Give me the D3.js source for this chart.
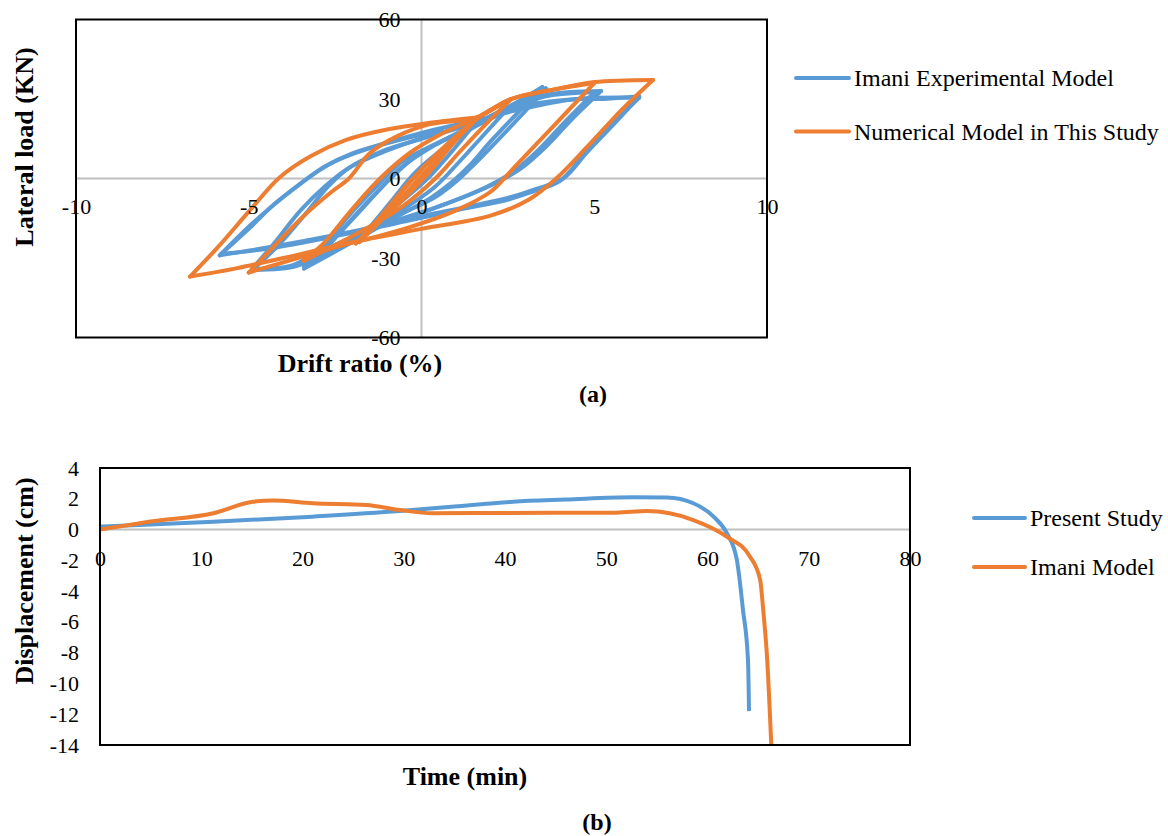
<!DOCTYPE html>
<html>
<head>
<meta charset="utf-8">
<script src="https://cdn.jsdelivr.net/npm/d3@7"></script>
<style>
  body { margin: 0; background: #fff; }
  svg text { font-family: "Liberation Serif", "Times New Roman", serif; fill: #000; }
  .title { font-size: 26px; font-weight: bold; }
  .label { font-size: 24px; font-weight: bold; }
  .legend text { font-size: 24px; }
</style>
</head>
<body>
<svg id="vis-svg"></svg>
<script>
// ---- data (a): hysteresis branches, [drift %, load kN], peak to peak
const experimentalBranches = [
  [[0,0],[0.7,11],[1.5,20]],
  [[1.5,20],[0.8,9],[0.1,-1],[-0.8,-11],[-1.6,-20]],
  [[-1.6,-20],[-0.9,-9],[-0.2,2],[0.7,12],[1.6,20],[2.4,25]],
  [[2.4,25],[1.7,15],[1.0,5],[0.4,-3],[-0.7,-13],[-1.8,-21],[-2.8,-27]],
  [[-2.8,-27],[-2.2,-18],[-1.5,-8],[-0.9,0],[-0.1,9],[0.9,16],[2.0,23],[3.5,34.5]],
  [[3.5,34.5],[2.8,25],[2.0,14],[1.4,5],[1.0,0],[0.3,-7],[-0.8,-15],[-2.0,-24],[-3.4,-34]],
  [[-3.4,-34],[-2.7,-25],[-1.9,-14],[-1.2,-4],[-0.6,4],[0.3,12],[1.4,19.5],[2.5,27],[3.6,34]],
  [[3.6,34],[2.9,24],[2.1,13],[1.5,5],[1.1,0],[0.4,-7],[-0.7,-14],[-2.0,-23],[-3.4,-33]],
  [[-3.4,-33],[-2.8,-25],[-2.1,-14],[-1.3,-3],[-0.6,6],[0.4,13],[1.6,20],[2.7,27],[3.6,31.5],[5.2,33]],
  [[5.2,33],[4.4,23],[3.6,12],[2.9,4],[2.4,0],[1.6,-5],[0.4,-11],[-1.2,-18],[-2.8,-27],[-3.6,-33],[-4.9,-34.5]],
  [[-4.9,-34.5],[-4.2,-26],[-3.4,-14],[-2.7,-3],[-2.1,4],[-1.2,10],[0,15],[1.3,20],[2.6,26.5],[3.6,31],[5.0,32.5]],
  [[5.0,32.5],[4.2,22],[3.4,11],[2.7,3],[2.2,-1],[1.4,-6],[0.2,-12],[-1.4,-19],[-3.0,-28],[-3.8,-33],[-4.9,-34]],
  [[-4.9,-34],[-4.3,-25],[-3.5,-12],[-2.8,-3],[-2.1,4],[-1.1,10],[0.2,16],[1.6,21],[3.0,27.5],[4.5,30],[5.3,30],[6.3,31]],
  [[6.3,31],[5.6,21],[4.8,10],[4.1,0],[3.3,-4],[2.6,-7],[1.2,-11],[-0.3,-15],[-2.0,-20],[-4.0,-25],[-5.84,-29]],
  [[-5.84,-29],[-5.0,-19],[-4.2,-9],[-3.4,-1],[-2.8,4.5],[-2.0,9.5],[-1.0,13.5],[0.25,18],[1.6,22],[3.0,26.5],[4.5,30],[6.3,30.5]],
  [[6.3,30.5],[5.5,20],[4.7,9],[4.0,-1],[3.2,-5],[2.5,-8],[1.0,-12],[-0.4,-16],[-2.2,-21],[-4.2,-26],[-5.8,-28.5]],
  [[-5.8,-28.5],[-4.9,-17],[-4.0,-7],[-3.2,1],[-2.5,6.5],[-1.6,11],[-0.5,15],[0.6,18]]
];

const numericalBranches = [
  [[0,0],[0.8,13],[1.6,23]],
  [[1.6,23],[0.8,12],[0.0,1],[-0.9,-12],[-1.8,-24]],
  [[-1.8,-24],[-1.0,-12],[-0.3,-1],[0.6,11],[1.6,22.5]],
  [[1.6,22.5],[0.9,13],[0.2,2],[-0.7,-10],[-1.9,-24.5]],
  [[-1.9,-24.5],[-1.1,-13],[-0.4,-2],[0.5,10],[1.6,22.5],[2.6,30]],
  [[2.6,30],[1.9,21],[1.1,10],[0.4,0],[-0.6,-11],[-1.9,-21],[-3.4,-31]],
  [[-3.4,-31],[-2.8,-24],[-2.1,-13],[-1.2,0],[-0.3,10],[0.6,17],[1.6,23],[2.6,30],[3.8,33.5],[5.0,36]],
  [[5.0,36],[4.2,25],[3.4,14],[2.6,3],[2.0,-5],[1.0,-12],[-0.5,-19],[-2.5,-26],[-5.0,-35.5]],
  [[-5.0,-35.5],[-4.3,-26],[-3.4,-14],[-2.6,-5],[-2.1,0],[-1.5,9.5],[-0.7,16],[0.25,20.5],[1.6,23],[2.6,30],[4.0,34],[5.0,36.4],[6.7,37.2]],
  [[6.7,37.2],[5.8,26],[4.8,12],[3.9,0],[3.1,-8],[2.0,-14],[0.0,-19],[-2.0,-24],[-4.0,-30],[-5.4,-34],[-6.7,-37]],
  [[-6.7,-37],[-5.9,-26],[-5.0,-12.5],[-4.1,0.5],[-3.2,8.5],[-2.2,14.5],[-1.0,18.5],[0.25,21],[1.6,23]]
];

const driftTicks = [-10, -5, 0, 5, 10];
const loadTicks = [-60, -30, 0, 30, 60];

// ---- data (b): displacement vs time
const presentTime = [0, 5, 11.2, 21, 29.6, 35, 40.8, 46, 52.6, 56, 58.6, 60.6, 61.9, 62.9, 63.5, 64.0, 64.1];
const presentDisp = [0.19, 0.33, 0.51, 0.84, 1.2, 1.5, 1.81, 1.95, 2.1, 2.08, 1.71, 0.84, -0.22, -1.97, -5.2, -8.5, -11.8];
const imaniTime = [0, 2.3, 5, 11.2, 15.1, 17.1, 21, 26.3, 29.6, 32.9, 40, 51, 54, 58.6, 61.9, 64.2, 65.2, 65.5, 65.9, 66.3];
const imaniDisp = [0, 0.24, 0.52, 1.06, 1.81, 1.88, 1.71, 1.6, 1.27, 1.06, 1.08, 1.1, 1.2, 0.62, -0.46, -1.76, -3.27, -5.2, -8.5, -14];

const timeTicks = [0, 10, 20, 30, 40, 50, 60, 70, 80];
const dispTicks = [4, 2, 0, -2, -4, -6, -8, -10, -12, -14];

const blue = "#5B9BD5", orange = "#ED7D31", grid = "#BFBFBF";
const plain = d => String(d);   // hyphen-minus, as in the original

const width = 1168, height = 836;
const svg = d3.select("#vis-svg").attr("width", width).attr("height", height);

// ---------- chart (a)
const xa = d3.scaleLinear().domain([-10, 10]).range([76, 767]);
const ya = d3.scaleLinear().domain([-60, 60]).range([337.5, 19.5]);

const ga = svg.append("g");
ga.append("line").attr("x1", xa(-10)).attr("x2", xa(10)).attr("y1", ya(0)).attr("y2", ya(0))
  .attr("stroke", grid).attr("stroke-width", 2);
ga.append("line").attr("x1", xa(0)).attr("x2", xa(0)).attr("y1", ya(60)).attr("y2", ya(-60))
  .attr("stroke", grid).attr("stroke-width", 2);

const loopLine = d3.line()
  .x(d => xa(d[0])).y(d => ya(d[1]))
  .curve(d3.curveCatmullRom.alpha(0.5));

ga.selectAll(".exp").data(experimentalBranches).enter().append("path")
  .attr("class", "exp").attr("d", loopLine)
  .attr("fill", "none").attr("stroke", blue).attr("stroke-width", 4)
  .attr("stroke-linejoin", "round").attr("stroke-linecap", "round");
ga.selectAll(".num").data(numericalBranches).enter().append("path")
  .attr("class", "num").attr("d", loopLine)
  .attr("fill", "none").attr("stroke", orange).attr("stroke-width", 4)
  .attr("stroke-linejoin", "round").attr("stroke-linecap", "round");

ga.append("rect").attr("x", xa(-10)).attr("y", ya(60))
  .attr("width", xa(10) - xa(-10)).attr("height", ya(-60) - ya(60))
  .attr("fill", "none").attr("stroke", "#000").attr("stroke-width", 2);

ga.append("g").attr("transform", `translate(${xa(0)},0)`)
  .call(d3.axisLeft(ya).tickValues(loadTicks).tickFormat(plain).tickSize(0).tickPadding(21))
  .call(g => g.select(".domain").remove());
ga.append("g").attr("transform", `translate(0,${ya(0)})`)
  .call(d3.axisBottom(xa).tickValues(driftTicks).tickFormat(plain).tickSize(0).tickPadding(20))
  .call(g => g.select(".domain").remove());

ga.append("text").attr("class", "title")
  .attr("transform", "translate(33,147) rotate(-90)")
  .attr("text-anchor", "middle").text("Lateral load (KN)");
ga.append("text").attr("class", "title")
  .attr("x", 360).attr("y", 372).attr("text-anchor", "middle").text("Drift ratio (%)");
ga.append("text").attr("class", "label")
  .attr("x", 593).attr("y", 402).attr("text-anchor", "middle").text("(a)");

const legA = ga.append("g").attr("class", "legend");
[["Imani Experimental Model", blue, 78], ["Numerical Model in This Study", orange, 131.5]].forEach(([label, c, y]) => {
  legA.append("line").attr("x1", 796).attr("x2", 849).attr("y1", y).attr("y2", y)
    .attr("stroke", c).attr("stroke-width", 4).attr("stroke-linecap", "round");
  legA.append("text").attr("x", 854).attr("y", y + 8).text(label);
});

// ---------- chart (b)
const xb = d3.scaleLinear().domain([0, 80]).range([100, 910]);
const yb = d3.scaleLinear().domain([-14, 4]).range([745, 468]);

const gb = svg.append("g");
gb.append("line").attr("x1", xb(0)).attr("x2", xb(80)).attr("y1", yb(0)).attr("y2", yb(0))
  .attr("stroke", grid).attr("stroke-width", 2);

const timeLine = d3.line()
  .x(d => xb(d[0])).y(d => yb(d[1]))
  .curve(d3.curveMonotoneX);

const presentSeries = presentTime.map((t, i) => [t, presentDisp[i]]);
const imaniSeries = imaniTime.map((t, i) => [t, imaniDisp[i]]);

gb.append("path").datum(presentSeries).attr("d", timeLine)
  .attr("fill", "none").attr("stroke", blue).attr("stroke-width", 4);
gb.append("path").datum(imaniSeries).attr("d", timeLine)
  .attr("fill", "none").attr("stroke", orange).attr("stroke-width", 4);

gb.append("rect").attr("x", xb(0)).attr("y", yb(4))
  .attr("width", xb(80) - xb(0)).attr("height", yb(-14) - yb(4))
  .attr("fill", "none").attr("stroke", "#000").attr("stroke-width", 2);

gb.append("g").attr("transform", `translate(${xb(0)},0)`)
  .call(d3.axisLeft(yb).tickValues(dispTicks).tickFormat(plain).tickSize(0).tickPadding(21))
  .call(g => g.select(".domain").remove());
gb.append("g").attr("transform", `translate(0,${yb(0)})`)
  .call(d3.axisBottom(xb).tickValues(timeTicks).tickFormat(plain).tickSize(0).tickPadding(21))
  .call(g => g.select(".domain").remove());

gb.append("text").attr("class", "title")
  .attr("transform", "translate(33,581) rotate(-90)")
  .attr("text-anchor", "middle").text("Displacement (cm)");
gb.append("text").attr("class", "title")
  .attr("x", 465).attr("y", 785).attr("text-anchor", "middle").text("Time (min)");
gb.append("text").attr("class", "label")
  .attr("x", 597).attr("y", 830).attr("text-anchor", "middle").text("(b)");

const legB = gb.append("g").attr("class", "legend");
[["Present Study", blue, 518], ["Imani Model", orange, 567]].forEach(([label, c, y]) => {
  legB.append("line").attr("x1", 974).attr("x2", 1025).attr("y1", y).attr("y2", y)
    .attr("stroke", c).attr("stroke-width", 4).attr("stroke-linecap", "round");
  legB.append("text").attr("x", 1030).attr("y", y + 8).text(label);
});

svg.selectAll(".tick text")
  .style("font-family", "'Liberation Serif', 'Times New Roman', serif")
  .style("font-size", "22px").attr("fill", "#000");
</script>
</body>
</html>
